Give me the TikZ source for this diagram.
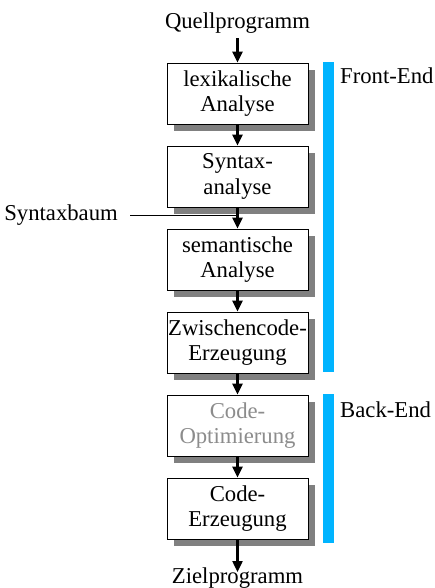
\documentclass[tikz,border=0pt]{standalone}
\usepackage{fontspec}
\setmainfont{Liberation Serif}
\usetikzlibrary{arrows.meta,shadows}
\definecolor{barblue}{RGB}{0,180,255}
\definecolor{shadowgray}{RGB}{128,128,128}
\definecolor{faded}{RGB}{140,140,140}
\begin{document}
\begin{tikzpicture}[x=1pt,y=-1pt,font=\fontsize{22.7}{25.5}\selectfont,
  box/.style={draw=black,line width=0.8pt,fill=white,minimum width=141pt,minimum height=61pt,
    align=center,inner sep=0pt,
    drop shadow={shadow xshift=7pt,shadow yshift=-7pt,opacity=1,fill=shadowgray}},
  arr/.style={line width=2.2pt,-{Triangle[length=11pt,width=10pt]}},
  lbl/.style={inner sep=0pt},
  bar/.style={fill=barblue,draw=none}]
\useasboundingbox (0,0) rectangle (434,588);
\node[lbl,anchor=base] (q) at (237.5,29) {Quellprogramm};
\node[box] (b1) at (237.5,93.5) {lexikalische\\Analyse};
\node[box] (b2) at (237.5,176.5) {Syntax-\\analyse};
\node[box] (b3) at (237.5,259.5) {semantische\\Analyse};
\node[box] (b4) at (237.5,342.5) {Zwischencode-\\Erzeugung};
\node[box,text=faded] (b5) at (237.5,425.5) {Code-\\Optimierung};
\node[box] (b6) at (237.5,508.5) {Code-\\Erzeugung};
\node[lbl,anchor=base] (z) at (237.5,583) {Zielprogramm};
\draw[arr] ([yshift=-4pt]q.south) -- (b1.north);
\draw[arr] (b1) -- (b2);
\draw[arr] (b2) -- (b3);
\draw[arr] (b3) -- (b4);
\draw[arr] (b4) -- (b5);
\draw[arr] (b5) -- (b6);
\draw[arr] (b6.south) -- ([yshift=-5pt]z.north);
\node[lbl,anchor=base east] (sb) at (118,220) {Syntaxbaum};
\coordinate (sbj) at (237.5,215);
\draw[line width=0.8pt] ([xshift=12pt]sb.east |- sbj) -- (sbj);
\fill[bar] (323,62) rectangle (334,372);
\fill[bar] (323,394) rectangle (334,543);
\node[lbl,anchor=base west] (fe) at (340,84) {Front-End};
\node[lbl,anchor=base west] (be) at (340,417) {Back-End};
\end{tikzpicture}
\end{document}
